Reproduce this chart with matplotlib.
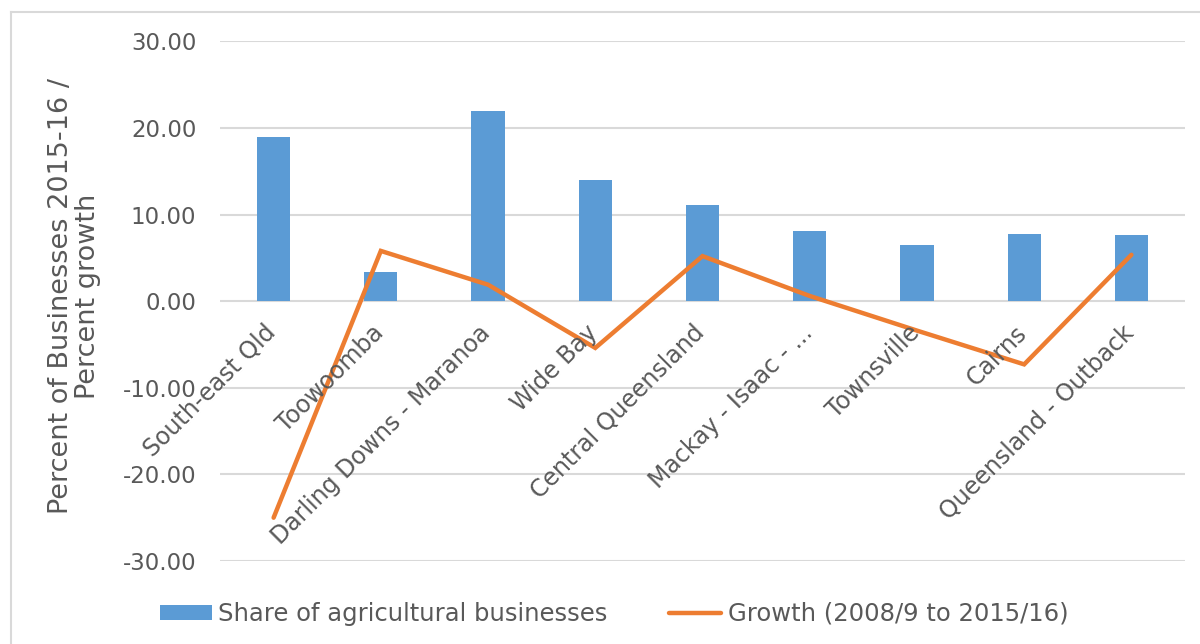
import matplotlib
matplotlib.use("Agg")
import matplotlib.pyplot as plt
from matplotlib.lines import Line2D
import numpy as np

categories = ["South-east Qld", "Toowoomba", "Darling Downs - Maranoa", "Wide Bay",
              "Central Queensland", "Mackay - Isaac - ...", "Townsville", "Cairns",
              "Queensland - Outback"]
share = [19.0, 3.4, 22.0, 14.0, 11.1, 8.1, 6.5, 7.8, 7.65]
growth = [-25.0, 5.8, 1.9, -5.4, 5.2, 0.6, -3.4, -7.3, 5.35]
yticks = [-30, -20, -10, 0, 10, 20, 30]
ylabel = "Percent of Businesses 2015-16 /\nPercent growth"
legend_labels = ["Share of agricultural businesses", "Growth (2008/9 to 2015/16)"]

bar_color = "#5B9BD5"
line_color = "#ED7D31"
text_color = "#595959"
W, H = 1200, 644

fig = plt.figure(figsize=(12, 6.44), dpi=100)
# outer chart border (left and top edges visible)
fig.add_artist(Line2D([10.5 / W, 10.5 / W], [0, 1 - 12 / H], transform=fig.transFigure,
                      color="#D9D9D9", linewidth=1.5))
fig.add_artist(Line2D([10.5 / W, 1], [1 - 12 / H, 1 - 12 / H], transform=fig.transFigure,
                      color="#D9D9D9", linewidth=1.5))

ax = fig.add_axes([220 / W, 1 - 561 / H, 965 / W, (561 - 41.3) / H])

x = np.arange(len(categories))
bars = ax.bar(x, share, width=0.31, color=bar_color, zorder=2, label=legend_labels[0])
line, = ax.plot(x, growth, color=line_color, linewidth=3.2, solid_capstyle="round",
                solid_joinstyle="miter", zorder=3, label=legend_labels[1])

ax.set_xlim(-0.5, len(categories) - 0.5)
ax.set_ylim(-30, 30)
ax.set_yticks(yticks)
ax.set_yticklabels([f"{v:.2f}" for v in yticks], fontsize=16.5, color=text_color)
ax.yaxis.grid(True, color="#D9D9D9", linewidth=1.5, zorder=0)
ax.set_axisbelow(True)
for s in ax.spines.values():
    s.set_visible(False)
ax.tick_params(axis="both", length=0)
ax.tick_params(axis="y", pad=17)

ax.set_xticks(x)
ax.set_xticklabels([])
for xi, lab in zip(x, categories):
    ax.annotate(lab, xy=(xi, 0), xycoords="data", xytext=(-7, -14), textcoords="offset points",
                rotation=45, ha="right", va="top", rotation_mode="anchor",
                fontsize=17, color=text_color)

ax.set_ylabel(ylabel, fontsize=19.5, color=text_color, linespacing=1.05)
ax.yaxis.set_label_coords(-0.1234, 0.51)

leg = fig.legend(handles=[bars, line], labels=legend_labels, loc="center left",
                 bbox_to_anchor=(160 / W, 1 - 614 / H), ncol=2, frameon=False,
                 prop={"size": 17.5}, borderpad=0, borderaxespad=0,
                 handlelength=2.14, handleheight=0.58, handletextpad=0.25, columnspacing=2.55)
for t in leg.get_texts():
    t.set_color(text_color)

fig.savefig("out.png", dpi=100)
